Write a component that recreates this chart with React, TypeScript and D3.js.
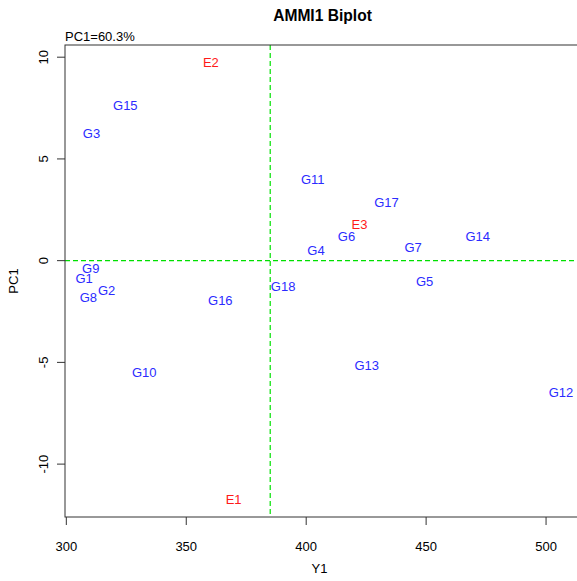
import React from "react";
import * as d3 from "d3";

const genotypes = ["G1","G2","G3","G4","G5","G6","G7","G8","G9","G10","G11","G12","G13","G14","G15","G16","G17","G18"];
const genoY1 = [307.4,316.8,310.5,404.1,449.4,416.8,444.6,309.2,310.2,332.5,402.75,506.2,425.25,471.5,324.6,364.2,433.5,390.4];
const genoPC1 = [-0.87,-1.44,6.26,0.49,-1.0,1.18,0.67,-1.80,-0.37,-5.51,3.97,-6.46,-5.16,1.17,7.61,-1.98,2.85,-1.28];

const environments = ["E1","E2","E3"];
const envY1 = [369.75,360.25,422.25];
const envPC1 = [-11.74,9.74,1.80];

const meanY1 = 385;
const xTicks = [300,350,400,450,500];
const yTicks = [-10,-5,0,5,10];
const titleText = "AMMI1 Biplot";
const pcText = "PC1=60.3%";
const xLabel = "Y1";
const yLabel = "PC1";

const W = 577, H = 581;
const L = 65, R = 580, T = 45, B = 517;
const FONT = "'Liberation Sans', Arial, Helvetica, sans-serif";

function padExtent(v: number[]): [number, number] {
  const [a, b] = d3.extent(v) as [number, number];
  const p = (b - a) * 0.04;
  return [a - p, b + p];
}

export default function App() {
  const allX = genoY1.concat(envY1);
  const allY = genoPC1.concat(envPC1);
  const x = d3.scaleLinear().domain(padExtent(allX)).range([L, R]);
  const y = d3.scaleLinear().domain(padExtent(allY)).range([B, T]);
  const axisColor = "#333";
  return (
    <svg width={W} height={H} style={{ position: "absolute", left: 0, top: 0, background: "#fff" }} fontFamily={FONT}>
      <rect x={0} y={0} width={W} height={H} fill="#fff" />
      <text x={(L + R) / 2} y={21} textAnchor="middle" fontWeight="bold" fontSize={15.6} fill="#000">{titleText}</text>
      <text x={L} y={41} fontSize={13} fill="#000">{pcText}</text>
      {/* reference lines */}
      <line x1={x(meanY1)} x2={x(meanY1)} y1={T} y2={B} stroke="#00e000" strokeWidth={1.2} strokeDasharray="5,3" />
      <line x1={L} x2={R} y1={y(0)} y2={y(0)} stroke="#00e000" strokeWidth={1.2} strokeDasharray="5,3" />
      {/* box */}
      <rect x={L} y={T} width={R - L} height={B - T} fill="none" stroke={axisColor} strokeWidth={1} />
      {/* x axis ticks */}
      {xTicks.map((t) => (
        <g key={"xt" + t}>
          <line x1={x(t)} x2={x(t)} y1={B} y2={B + 8} stroke={axisColor} strokeWidth={1} />
          <text x={x(t)} y={551} textAnchor="middle" fontSize={13} fill="#000">{t}</text>
        </g>
      ))}
      {yTicks.map((t) => (
        <g key={"yt" + t}>
          <line x1={L - 8} x2={L} y1={y(t)} y2={y(t)} stroke={axisColor} strokeWidth={1} />
          <text transform={`translate(48,${y(t)}) rotate(-90)`} textAnchor="middle" fontSize={13} fill="#000">{t}</text>
        </g>
      ))}
      <text x={(L + R) / 2 - 3} y={573} textAnchor="middle" fontSize={13} fill="#000">{xLabel}</text>
      <text transform={`translate(18,${(T + B) / 2}) rotate(-90)`} textAnchor="middle" fontSize={13} fill="#000">{yLabel}</text>
      {/* genotype labels */}
      {genotypes.map((g, i) => (
        <text key={g} x={x(genoY1[i])} y={y(genoPC1[i])} dy="0.35em" textAnchor="middle" fontSize={13} fill="#2b2bff">{g}</text>
      ))}
      {environments.map((e, i) => (
        <text key={e} x={x(envY1[i])} y={y(envPC1[i])} dy="0.35em" textAnchor="middle" fontSize={13} fill="#ff1a1a">{e}</text>
      ))}
    </svg>
  );
}
